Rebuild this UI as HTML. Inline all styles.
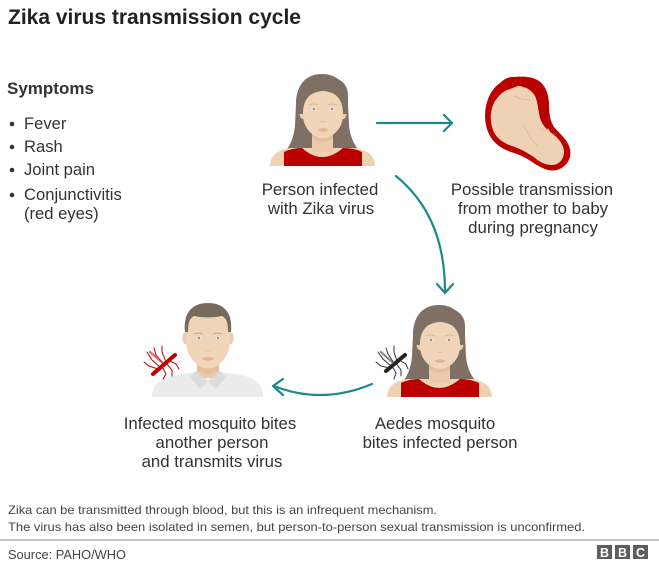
<!DOCTYPE html>
<html>
<head>
<meta charset="utf-8">
<style>
  html,body{margin:0;padding:0;background:#fff;}
  svg{display:block;}
  text{font-family:"Liberation Sans",Arial,sans-serif;}
</style>
</head>
<body>
<svg width="659" height="583" viewBox="0 0 659 583" xmlns="http://www.w3.org/2000/svg">
  <rect width="659" height="583" fill="#fff"/>

  <!-- Title -->
  <text x="8" y="24" font-size="21" font-weight="bold" fill="#222">Zika virus transmission cycle</text>

  <!-- Symptoms -->
  <text x="7" y="94" font-size="17" font-weight="bold" fill="#333">Symptoms</text>
  <g fill="#333">
    <circle cx="12" cy="124" r="2.3"/>
    <circle cx="12" cy="147" r="2.3"/>
    <circle cx="12" cy="170" r="2.3"/>
    <circle cx="12" cy="195" r="2.3"/>
  </g>
  <g font-size="16.6" fill="#333">
    <text x="24" y="129">Fever</text>
    <text x="24" y="152">Rash</text>
    <text x="24" y="175">Joint pain</text>
    <text x="24" y="200">Conjunctivitis</text>
    <text x="24" y="219">(red eyes)</text>
  </g>

  <!-- Woman figure (defined once) -->
  <defs>
    <g id="woman">
      <!-- back hair -->
      <path d="M322,74 C305,74 296,86 296,104 L295,125 C294,138 290,146 284,153 L361,153 C355,146 350,138 349,125 L348,104 C348,86 339,74 322,74 Z" fill="#7e7064"/>
      <!-- shoulders -->
      <path d="M270,166 C270,156 277,150 290,148 L355,148 C368,150 375,156 375,166 Z" fill="#efd2b4"/>
      <!-- neck -->
      <rect x="312" y="126" width="21" height="26" fill="#ebcbab"/>
      <path d="M312,132 Q322,142 333,132 L333,138 Q322,146 312,138 Z" fill="#e2bf9e"/>
      <!-- red top -->
      <path d="M284,166 L284,152 Q292,148 302,148 Q322,166 343,148 Q354,148 362,152 L362,166 Z" fill="#bb0000"/>
      <!-- ears -->
      <ellipse cx="302.5" cy="113" rx="3" ry="6" fill="#ebcbab"/>
      <ellipse cx="343.5" cy="113" rx="3" ry="6" fill="#ebcbab"/>
      <!-- face -->
      <path d="M303,100 C303,88 312,84 323,84 C334,84 343,88 343,100 L343,115 C343,128 333,138 323,138 C313,138 303,128 303,115 Z" fill="#f1d5b8"/>
      <!-- front hair -->
      <path d="M298,114 L298,95 C298,82 309,76 323,76 C337,76 348,82 348,95 L348,114 L343,114 C343,101 338,92 323,91 C308,92 303,101 303,114 Z" fill="#7e7064"/>
      <!-- brows -->
      <path d="M309,105 Q314,103 318,105" stroke="#d9b99a" stroke-width="1" fill="none"/>
      <path d="M328,105 Q332,103 337,105" stroke="#d9b99a" stroke-width="1" fill="none"/>
      <!-- eyes -->
      <ellipse cx="314" cy="109" rx="2.6" ry="1.6" fill="#f7f2ee"/>
      <ellipse cx="332" cy="109" rx="2.6" ry="1.6" fill="#f7f2ee"/>
      <circle cx="314" cy="109" r="1.3" fill="#8f8f8f"/>
      <circle cx="332" cy="109" r="1.3" fill="#8f8f8f"/>
      <!-- nose -->
      <path d="M320,121 Q323,123 326,121" stroke="#e0bfa0" stroke-width="1" fill="none"/>
      <!-- mouth -->
      <ellipse cx="323" cy="130" rx="5" ry="1.8" fill="#e2b49c"/>
    </g>
  </defs>

  <use href="#woman"/>
  <use href="#woman" transform="translate(117,231)"/>

  <!-- Fetus -->
  <path d="M513,77 C525,76 533,77 539,81 C546,86 549,95 549,105 C549,113 550,121 554,127 C560,134 568,140 570,149 C572,158 567,167 557,170 C549,172 542,168 535,164 C528,159 523,156 514,153 C504,150 495,145 490,136 C485,127 484,116 486,106 C488,96 493,88 500,83 C504,79 508,77 513,77 Z" fill="#bb0000"/>
  <path d="M513,88 C517,86 520,85 523,87 C528,88 532,91 535,96 C538,102 538,110 540,118 C542,125 547,130 553,134 C559,139 564,145 564,152 C564,159 559,165 552,165 C545,165 540,162 535,158 C528,153 521,149 512,146 C503,143 496,138 493,130 C490,122 490,113 493,105 C496,98 502,92 507,90 Z" fill="#efd2b4"/>
  <path d="M515,96 Q522,101 530,99" stroke="#e0bd9c" stroke-width="0.9" fill="none"/>
  <path d="M524,125 Q530,140 538,146" stroke="#e0bd9c" stroke-width="0.9" fill="none"/>
  <path d="M540,128 L545,131 L548,129 L551,134" stroke="#e0bd9c" stroke-width="0.9" fill="none"/>
  <path d="M513,88 Q524,86 529,90" stroke="#e5c3a4" stroke-width="0.8" fill="none"/>

  <!-- Man -->
  <path d="M152,397 C152,385 160,378 175,375 L196,372 L208,380 L220,372 L241,375 C256,378 263,385 263,397 Z" fill="#ebebeb"/>
  <rect x="197" y="358" width="22" height="20" fill="#ebcbab"/>
  <path d="M197,364 Q208,374 219,364 L219,370 Q208,378 197,370 Z" fill="#e2bf9e"/>
  <path d="M196,371 L208,382 L200,389 L190,377 Z" fill="#dcdcdc"/>
  <path d="M220,371 L208,382 L216,389 L226,377 Z" fill="#dcdcdc"/>
  <ellipse cx="185.5" cy="338" rx="3" ry="6" fill="#ebcbab"/>
  <ellipse cx="230.5" cy="338" rx="3" ry="6" fill="#ebcbab"/>
  <path d="M186,322 C186,310 196,306 208,306 C220,306 230,310 230,322 L230,340 C230,356 220,368 208,368 C196,368 186,356 186,340 Z" fill="#f1d5b8"/>
  <path d="M185,332 C183,313 192,303 208,303 C224,303 233,313 231,332 L228,332 C228,322 226,318 222,316 Q208,319 194,316 C190,318 188,322 188,332 Z" fill="#776b5d"/>
  <path d="M194,334 Q199,332 203,334" stroke="#cfae8e" stroke-width="1.2" fill="none"/>
  <path d="M213,334 Q218,332 222,334" stroke="#cfae8e" stroke-width="1.2" fill="none"/>
  <ellipse cx="199" cy="338" rx="2.6" ry="1.6" fill="#f7f2ee"/>
  <ellipse cx="218" cy="338" rx="2.6" ry="1.6" fill="#f7f2ee"/>
  <circle cx="199" cy="338" r="1.3" fill="#8f8f8f"/>
  <circle cx="218" cy="338" r="1.3" fill="#8f8f8f"/>
  <path d="M205,350 Q208,352 211,350" stroke="#e0bfa0" stroke-width="1" fill="none"/>
  <ellipse cx="208" cy="359" rx="5.5" ry="1.8" fill="#e2b49c"/>

  <!-- Red mosquito -->
  <g stroke="#c00000" stroke-linecap="round" fill="none">
    <line x1="153" y1="374" x2="175" y2="355" stroke-width="4"/>
    <g stroke-width="1">
      <path d="M160,367 L152,360 L147,352"/>
      <path d="M163,364 L156,355 L154,348"/>
      <path d="M166,362 L162,352 L162,346"/>
      <path d="M158,369 L149,366 L144,362"/>
      <path d="M162,366 L166,374 L163,379"/>
      <path d="M166,363 L172,370 L172,376"/>
      <path d="M168,360 L176,364 L179,369"/>
    </g>
    <path d="M163,363 L150,352" stroke-width="2.2" stroke="#d43030" opacity="0.7"/>
  </g>

  <!-- Black mosquito -->
  <g stroke="#222" stroke-linecap="round" fill="none">
    <line x1="386" y1="371" x2="405" y2="355" stroke-width="4"/>
    <g stroke-width="1" stroke="#333">
      <path d="M391,366 L383,359 L378,352"/>
      <path d="M394,363 L388,354 L386,348"/>
      <path d="M397,361 L394,352 L394,346"/>
      <path d="M389,368 L381,366 L376,362"/>
      <path d="M392,366 L396,373 L394,379"/>
      <path d="M396,363 L401,370 L401,376"/>
      <path d="M399,360 L406,364 L408,369"/>
    </g>
    <path d="M393,363 L381,352" stroke-width="2.2" stroke="#555" opacity="0.7"/>
  </g>

  <!-- Arrows -->
  <g stroke="#1b8a8a" stroke-width="2.2" fill="none" stroke-linecap="round" stroke-linejoin="round">
    <line x1="377" y1="123" x2="452" y2="123"/>
    <polyline points="444,115 452,123 444,131"/>
    <path d="M396,176 C425,200 445,235 445,292"/>
    <polyline points="437,284 445,293 453,284"/>
    <path d="M372,384 Q322,405 274,386"/>
    <polyline points="283,379 273,386 283,395"/>
  </g>

  <!-- Labels -->
  <g font-size="16.8" fill="#333" text-anchor="middle">
    <text x="320" y="195">Person infected</text>
    <text x="321" y="214">with Zika virus</text>
    <text x="532" y="195">Possible transmission</text>
    <text x="533" y="214">from mother to baby</text>
    <text x="533" y="233">during pregnancy</text>
    <text x="210" y="429">Infected mosquito bites</text>
    <text x="212" y="448">another person</text>
    <text x="212" y="467">and transmits virus</text>
    <text x="435" y="429">Aedes mosquito</text>
    <text x="440" y="448">bites infected person</text>
  </g>

  <!-- Footer -->
  <g font-size="12" fill="#444">
    <text x="8" y="514" textLength="429" lengthAdjust="spacingAndGlyphs">Zika can be transmitted through blood, but this is an infrequent mechanism.</text>
    <text x="8" y="531" textLength="577" lengthAdjust="spacingAndGlyphs">The virus has also been isolated in semen, but person-to-person sexual transmission is unconfirmed.</text>
  </g>
  <rect x="0" y="539" width="659" height="2" fill="#c4c4c4"/>
  <text x="8" y="559" font-size="12.7" fill="#444" textLength="118" lengthAdjust="spacingAndGlyphs">Source: PAHO/WHO</text>

  <!-- BBC logo -->
  <g>
    <rect x="597" y="545" width="15" height="14" fill="#5e5e5e"/>
    <rect x="615" y="545" width="15" height="14" fill="#5e5e5e"/>
    <rect x="633" y="545" width="15" height="14" fill="#5e5e5e"/>
    <g font-size="12.5" font-weight="bold" fill="#fff" text-anchor="middle">
      <text x="604.5" y="557">B</text>
      <text x="622.5" y="557">B</text>
      <text x="640.5" y="557">C</text>
    </g>
  </g>
</svg>
</body>
</html>
